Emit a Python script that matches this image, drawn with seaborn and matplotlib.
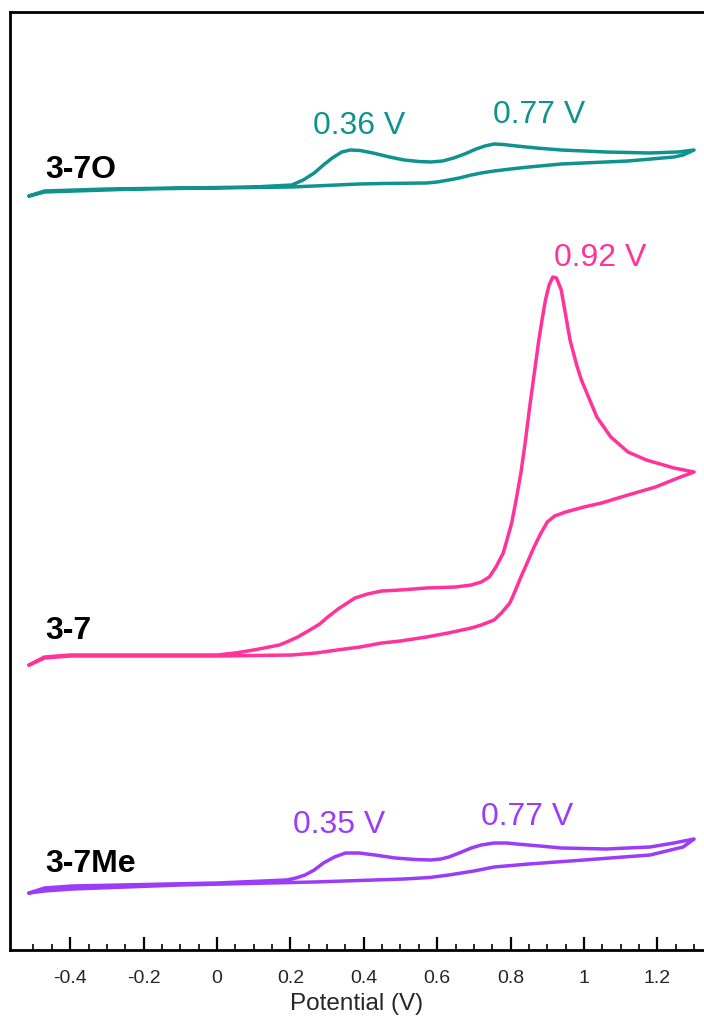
import numpy as np
import pandas as pd
import matplotlib
matplotlib.use("Agg")
import matplotlib.pyplot as plt
from matplotlib.ticker import FixedLocator
import seaborn as sns

# cyclic voltammograms, currents in arbitrary units, traces stacked with offsets
# 3-7O (teal)
o_fwd_v = [-0.512, -0.47, -0.3, -0.1, 0.1, 0.204, 0.235, 0.265, 0.29, 0.314, 0.34, 0.363, 0.39,
           0.425, 0.47, 0.51, 0.55, 0.583, 0.615, 0.645, 0.675, 0.706, 0.73, 0.755, 0.78, 0.816,
           0.87, 0.938, 1.0, 1.06, 1.18, 1.256, 1.30]
o_fwd_i = [-6, -1, 1, 2, 3, 5, 10, 17, 25, 32, 38, 40, 39.5, 37, 33, 30, 28.5, 28, 29, 32, 36,
           41, 44, 46, 45.5, 44, 42, 40, 39, 38, 37, 38, 40]
o_rev_v = [1.30, 1.27, 1.245, 1.12, 0.938, 0.85, 0.8, 0.755, 0.72, 0.693, 0.66, 0.632, 0.6,
           0.571, 0.45, 0.387, 0.204, -0.22, -0.47, -0.512]
o_rev_i = [40, 35, 33, 29, 26, 23, 21, 19, 17, 15, 12, 10, 8, 7, 6.5, 6, 3, 1, -2, -6]

# 3-7 (pink)
p_fwd_v = [-0.512, -0.47, -0.4, 0.0, 0.05, 0.1, 0.142, 0.17, 0.19, 0.22, 0.253, 0.28, 0.302,
           0.33, 0.355, 0.376, 0.41, 0.449, 0.5, 0.571, 0.65, 0.693, 0.72, 0.742, 0.76, 0.78,
           0.79, 0.803, 0.815, 0.828, 0.84, 0.852, 0.865, 0.877, 0.887, 0.895, 0.905, 0.915,
           0.925, 0.938, 0.95, 0.962, 0.98, 0.993, 1.035, 1.073, 1.12, 1.17, 1.245, 1.30]
p_fwd_i = [-10, -2, 0, 0, 2, 5, 8, 10, 13, 18, 25, 31, 38, 46, 52, 57, 61, 64, 65, 67, 68, 70,
           73, 78, 88, 102, 115, 132, 155, 182, 213, 248, 283, 315, 338, 355, 370, 378, 377,
           365, 340, 315, 290, 275, 238, 218, 203, 195, 187, 183]
p_rev_v = [1.30, 1.256, 1.195, 1.12, 1.048, 1.0, 0.95, 0.92, 0.90, 0.88, 0.864, 0.845, 0.828,
           0.81, 0.798, 0.775, 0.755, 0.72, 0.693, 0.63, 0.571, 0.5, 0.449, 0.39, 0.327, 0.27,
           0.204, 0.0, -0.4, -0.47, -0.512]
p_rev_i = [183, 177, 168, 160, 152, 148, 143, 139, 133, 120, 108, 92, 78, 62, 52, 42, 35, 30,
           27, 22, 18, 14, 12, 8, 5, 2, 0, -1, -1, -3, -10]

# 3-7Me (purple)
m_fwd_v = [-0.512, -0.47, -0.395, 0.0, 0.19, 0.215, 0.24, 0.265, 0.29, 0.32, 0.35, 0.387, 0.43,
           0.486, 0.54, 0.583, 0.61, 0.632, 0.66, 0.693, 0.72, 0.755, 0.79, 0.816, 0.88, 0.938,
           1.06, 1.18, 1.245, 1.30]
m_fwd_i = [-8, -3, -1, 2, 5, 7, 10, 15, 22, 28, 32, 32, 30, 27, 25.5, 25, 26, 28, 32, 37, 40,
           42, 42, 41, 39, 37, 36, 38, 42, 46]
m_rev_v = [1.30, 1.285, 1.27, 1.18, 1.0, 0.85, 0.755, 0.7, 0.632, 0.58, 0.51, 0.265, -0.1,
           -0.395, -0.47, -0.512]
m_rev_i = [46, 42, 38, 30, 25, 21, 18, 14, 10, 7.5, 6, 3, 0, -4, -6, -8]

names = ["3-7O", "3-7", "3-7Me"]
offsets = [760, 295, 65]
colors = ["#10938e", "#ff3399", "#9b3cf7"]
peak_labels = [["0.36 V", "0.77 V"], ["0.92 V"], ["0.35 V", "0.77 V"]]

traces = [
    (o_fwd_v + o_rev_v, o_fwd_i + o_rev_i),
    (p_fwd_v + p_rev_v, p_fwd_i + p_rev_i),
    (m_fwd_v + m_rev_v, m_fwd_i + m_rev_i),
]

sns.set_style("ticks")
plt.rcParams["font.family"] = ["Liberation Sans", "DejaVu Sans"]

fig = plt.figure(figsize=(7.04, 10.17), dpi=100)
ax = fig.add_axes([10 / 704, 67 / 1017, 694 / 704, 938 / 1017])

for (v, i), off, col in zip(traces, offsets, colors):
    df = pd.DataFrame({"Potential": v, "Current": np.array(i) + off})
    sns.lineplot(data=df, x="Potential", y="Current", sort=False, estimator=None,
                 color=col, lw=2.5, ax=ax, solid_joinstyle="round", solid_capstyle="round")

# compound names
for name, y in zip(names, [780, 319, 86]):
    ax.text(-0.469, y, name, fontsize=23, fontweight="bold", color="black",
            ha="left", va="center")

# peak potentials
peak_pos = [[(0.387, 824), (0.877, 835)], [(1.044, 692)], [(0.332, 125), (0.845, 133)]]
for labs, pos, col in zip(peak_labels, peak_pos, colors):
    for lab, (x, y) in zip(labs, pos):
        ax.text(x, y, lab, fontsize=23, color=col, ha="center", va="center")

ax.set_xlim(-0.564, 1.327)
ax.set_ylim(0, 938)
ax.set_xlabel("Potential (V)", fontsize=17.5, labelpad=4)
ax.set_ylabel("")
ax.set_yticks([])

major = [-0.4, -0.2, 0, 0.2, 0.4, 0.6, 0.8, 1.0, 1.2]
major_labels = ["-0.4", "-0.2", "0", "0.2", "0.4", "0.6", "0.8", "1", "1.2"]
ax.xaxis.set_major_locator(FixedLocator(major))
ax.set_xticklabels(major_labels)
ax.xaxis.set_minor_locator(FixedLocator(np.round(np.arange(-0.5, 1.31, 0.05), 2)))
ax.tick_params(axis="x", which="major", direction="in", length=9.5, width=1.6,
               labelsize=14, pad=14.5, color="black")
ax.tick_params(axis="x", which="minor", direction="in", length=4.5, width=1.2, color="black")

for s in ["left", "top", "bottom"]:
    ax.spines[s].set_linewidth(2.0)
    ax.spines[s].set_color("black")
ax.spines["right"].set_visible(False)

fig.savefig("out.png", dpi=100)
